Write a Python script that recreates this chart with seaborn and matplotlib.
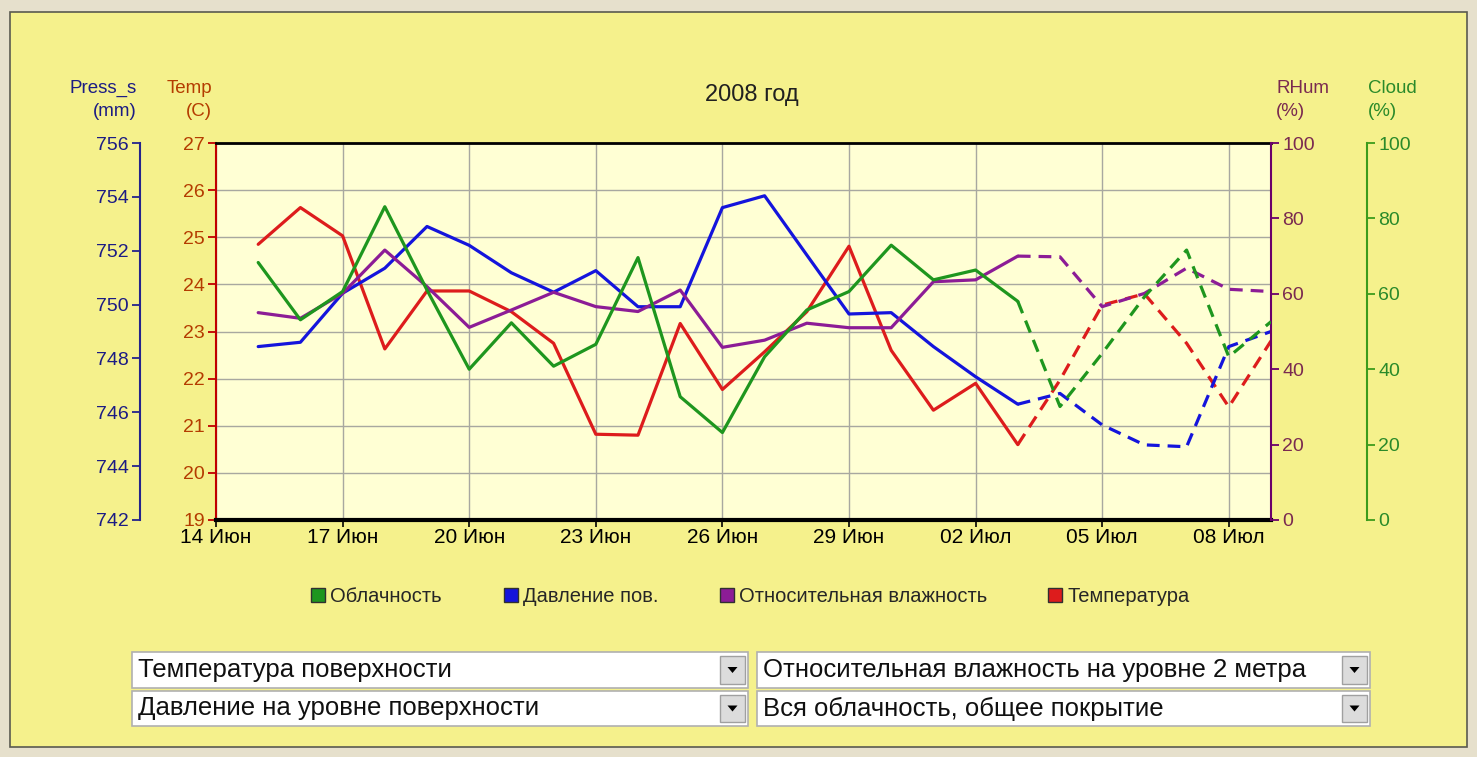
import pandas as pd
import matplotlib
matplotlib.use('Agg')
import matplotlib.pyplot as plt
from matplotlib.patches import Rectangle, Polygon
from matplotlib.lines import Line2D
import seaborn as sns

# daily values, 15 Jun .. 9 Jul 2008 (last 7 points = forecast, dashed)
dates = pd.date_range('2008-06-15', '2008-07-09')
n_obs = 19  # 15 Jun .. 3 Jul observed

temp = [24.85, 25.63, 25.03, 22.63, 23.86, 23.86, 23.42, 22.75, 20.82, 20.8,
        23.17, 21.77, 22.57, 23.42, 24.81, 22.6, 21.33, 21.9, 20.6,
        21.97, 23.56, 23.8, 22.75, 21.4, 22.8]
press = [748.44, 748.6, 750.42, 751.35, 752.9, 752.2, 751.18, 750.46, 751.26, 749.92,
         749.92, 753.6, 754.04, 751.84, 749.65, 749.7, 748.44, 747.32, 746.3,
         746.7, 745.53, 744.79, 744.72, 748.44, 749.0]
rhum = [55.0, 53.5, 60.1, 71.6, 61.9, 51.1, 55.7, 60.4, 56.6, 55.3,
        61.0, 45.8, 47.7, 52.2, 51.0, 51.0, 63.2, 63.7, 70.0,
        69.8, 56.6, 60.1, 66.8, 61.2, 60.6]
cloud = [68.3, 53.1, 60.6, 83.1, 61.0, 40.0, 52.3, 40.8, 46.6, 69.6,
         32.7, 23.2, 43.3, 55.7, 60.6, 72.9, 63.7, 66.3, 58.0,
         30.1, 44.2, 59.2, 71.6, 43.3, 52.6]

tick_dates = ['2008-06-14', '2008-06-17', '2008-06-20', '2008-06-23', '2008-06-26',
              '2008-06-29', '2008-07-02', '2008-07-05', '2008-07-08']
tick_labels = ['14 Июн', '17 Июн', '20 Июн', '23 Июн', '26 Июн',
               '29 Июн', '02 Июл', '05 Июл', '08 Июл']

legend_labels = ['Облачность', 'Давление пов.', 'Относительная влажность', 'Температура']
menu_items = ['Температура поверхности', 'Относительная влажность на уровне 2 метра',
              'Давление на уровне поверхности', 'Вся облачность, общее покрытие']

df = pd.DataFrame({'date': dates, 'temp': temp, 'press': press, 'rhum': rhum, 'cloud': cloud})
obs = df.iloc[:n_obs]
fc = df.iloc[n_obs - 1:]

c_temp, c_press, c_rhum, c_cloud = '#dd1c1c', '#1414dc', '#8c1c96', '#1e961e'

sns.set_theme(style='white')
plt.rcParams['font.family'] = ['Liberation Sans', 'DejaVu Sans']

W, H = 1477, 757
def fx(px):
    return px / W
def fy(py):
    return 1 - py / H

fig = plt.figure(figsize=(W / 100, H / 100), dpi=100)
fig.patch.set_facecolor('#e6e0cc')
fig.add_artist(Rectangle((fx(10), fy(747)), fx(1467) - fx(10), fy(12) - fy(747),
                         transform=fig.transFigure, facecolor='#f5f18c',
                         edgecolor='#5a5a50', lw=1.2, zorder=-10))

ax = fig.add_axes([fx(216), fy(520), fx(1271) - fx(216), fy(143) - fy(520)])
ax.set_facecolor('#ffffd4')
ax_p = ax.twinx()
ax_h = ax.twinx()
ax_c = ax.twinx()

dash = (0, (4, 2.5))
lw = 2.3
for a, col, c in [(ax, 'temp', c_temp), (ax_p, 'press', c_press),
                  (ax_h, 'rhum', c_rhum), (ax_c, 'cloud', c_cloud)]:
    sns.lineplot(data=obs, x='date', y=col, ax=a, color=c, lw=lw, legend=False)
    sns.lineplot(data=fc, x='date', y=col, ax=a, color=c, lw=lw, linestyle=dash, legend=False)
    a.set_xlabel('')
    a.set_ylabel('')

tsize = 14

# x axis
ax.set_xlim(pd.Timestamp('2008-06-14'), pd.Timestamp('2008-07-09'))
ax.set_xticks(pd.to_datetime(tick_dates))
ax.set_xticklabels(tick_labels, fontsize=15, color='black')
ax.tick_params(axis='x', direction='out', length=5, width=1.2, color='black', pad=1, bottom=True)
ax.grid(True, color='#a8a8a0', lw=1)

# temperature (inner left)
ax.set_ylim(19, 27)
ax.set_yticks(range(19, 28))
ax.tick_params(axis='y', direction='out', length=6, width=1.3, color='#c00000',
               labelcolor='#b43c00', labelsize=tsize, pad=2, left=True)
ax.spines['left'].set_color('#c00000')
ax.spines['left'].set_linewidth(1.5)
ax.spines['right'].set_visible(False)
ax.spines['top'].set_color('black')
ax.spines['top'].set_linewidth(2)
ax.spines['bottom'].set_color('black')
ax.spines['bottom'].set_linewidth(3)

# pressure (outer left)
ax_p.set_ylim(742, 756)
ax_p.set_yticks(range(742, 757, 2))
ax_p.yaxis.set_ticks_position('left')
ax_p.spines['left'].set_position(('outward', 76 * 0.72))
ax_p.spines['left'].set_visible(True)
ax_p.spines['left'].set_color('#24248c')
ax_p.spines['left'].set_linewidth(1.5)
ax_p.tick_params(axis='y', direction='out', length=6, width=1.3, color='#24248c',
                 labelcolor='#1c1c84', labelsize=tsize, pad=2)

# relative humidity (inner right)
ax_h.set_ylim(0, 100)
ax_h.set_yticks(range(0, 101, 20))
ax_h.spines['right'].set_color('#6a006a')
ax_h.spines['right'].set_linewidth(1.5)
ax_h.tick_params(axis='y', direction='out', length=6, width=1.3, color='#6a006a',
                 labelcolor='#7a2a50', labelsize=tsize, pad=2, right=True)

# cloud (outer right)
ax_c.set_ylim(0, 100)
ax_c.set_yticks(range(0, 101, 20))
ax_c.spines['right'].set_position(('outward', 96 * 0.72))
ax_c.spines['right'].set_color('#3c9c1c')
ax_c.spines['right'].set_linewidth(1.5)
ax_c.tick_params(axis='y', direction='out', length=6, width=1.3, color='#3c9c1c',
                 labelcolor='#2a8a2a', labelsize=tsize, pad=2, right=True)

for a in (ax_p, ax_h, ax_c):
    a.spines['top'].set_visible(False)
    a.spines['bottom'].set_visible(False)
    a.grid(False)
ax_h.spines['left'].set_visible(False)
ax_c.spines['left'].set_visible(False)
ax_p.spines['right'].set_visible(False)

# axis headers and title
hsize = 13.5
fig.text(fx(137), fy(80), 'Press_s\n(mm)', ha='right', va='top', ma='right',
         fontsize=hsize, color='#1c1c84', linespacing=1.45)
fig.text(fx(212), fy(80), 'Temp\n(C)', ha='right', va='top', ma='right',
         fontsize=hsize, color='#b43c00', linespacing=1.45)
fig.text(fx(1276), fy(80), 'RHum\n(%)', ha='left', va='top', ma='left',
         fontsize=hsize, color='#7a2a50', linespacing=1.45)
fig.text(fx(1368), fy(80), 'Cloud\n(%)', ha='left', va='top', ma='left',
         fontsize=hsize, color='#2a8a2a', linespacing=1.45)
fig.text(fx(752), fy(95), '2008 год', ha='center', va='center', fontsize=17, color='#202020')

# legend
handles = [Line2D([], [], ls='', marker='s', markersize=10, markerfacecolor=c,
                  markeredgecolor='#303030', markeredgewidth=1)
           for c in (c_cloud, c_press, c_rhum, c_temp)]
fig.legend(handles, legend_labels, loc='center', bbox_to_anchor=(fx(750), fy(597)),
           ncol=4, frameon=False, fontsize=14.5, handletextpad=0.2,
           columnspacing=3.0, handlelength=0.8)

# selector boxes below the chart
boxes = [(132, 652, 748, 688), (757, 652, 1370, 688), (132, 691, 748, 726), (757, 691, 1370, 726)]
for (x0, y0, x1, y1), label in zip(boxes, menu_items):
    fig.add_artist(Rectangle((fx(x0), fy(y1)), fx(x1) - fx(x0), fy(y0) - fy(y1),
                             transform=fig.transFigure, facecolor='white',
                             edgecolor='#b0b0b0', lw=1.2))
    bx0, bx1 = x1 - 28, x1 - 3
    fig.add_artist(Rectangle((fx(bx0), fy(y1 - 4)), fx(bx1) - fx(bx0), fy(y0 + 4) - fy(y1 - 4),
                             transform=fig.transFigure, facecolor='#dcdcdc',
                             edgecolor='#a0a0a0', lw=1))
    cx, cy = (bx0 + bx1) / 2, (y0 + y1) / 2
    fig.add_artist(Polygon([(fx(cx - 5), fy(cy - 3)), (fx(cx + 5), fy(cy - 3)), (fx(cx), fy(cy + 3))],
                           closed=True, transform=fig.transFigure, facecolor='black', edgecolor='none'))
    fig.text(fx(x0 + 6), fy((y0 + y1) / 2), label, ha='left', va='center',
             fontsize=18.5, color='#101010')

fig.savefig('out.png', dpi=100, facecolor=fig.get_facecolor())
